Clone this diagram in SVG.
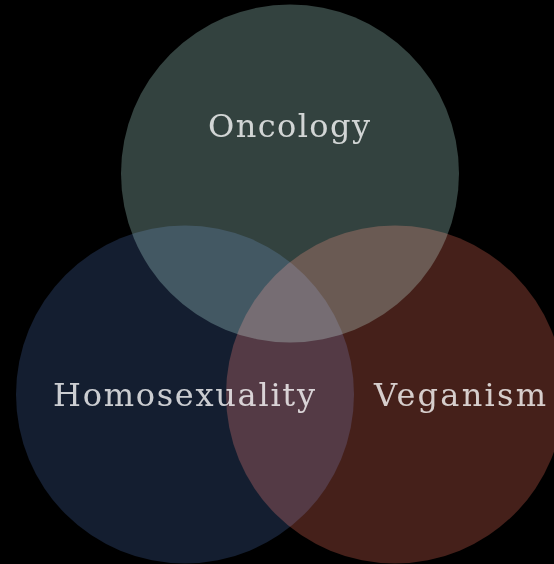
<svg xmlns="http://www.w3.org/2000/svg" width="554" height="564" viewBox="0 0 554 564">
<style>
.c{mix-blend-mode:screen}
.t{font-family:"DejaVu Serif","Liberation Serif",serif;font-size:32px;fill:#ffffff;fill-opacity:0.78}
</style>
<rect width="554" height="564" fill="#000"/>
<g id="oncology">
<circle class="c" cx="290" cy="173.5" r="169" fill="#33423f"/>
</g>
<g id="homosexuality">
<circle class="c" cx="185" cy="394.5" r="169" fill="#141e30"/>
</g>
<g id="veganism">
<circle class="c" cx="395" cy="394.5" r="169" fill="#45201a"/>
</g>
<g id="connectors"></g>
<g id="labels">
<text class="t" x="208" y="137" textLength="162" lengthAdjust="spacing">Oncology</text>
<text class="t" x="53" y="406" textLength="262" lengthAdjust="spacing">Homosexuality</text>
<text class="t" x="374" y="406" textLength="172" lengthAdjust="spacing">Veganism</text>
</g>
</svg>
